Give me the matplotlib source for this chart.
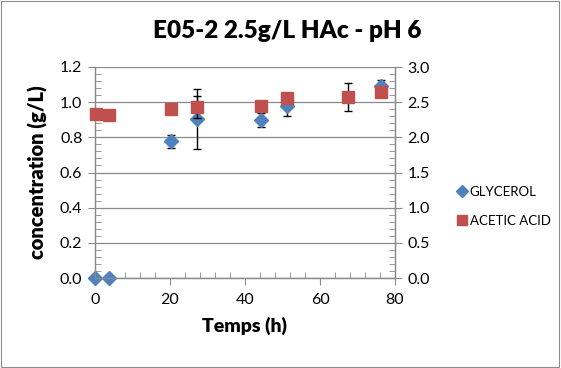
import matplotlib
matplotlib.use("Agg")
import matplotlib.pyplot as plt
from matplotlib.ticker import MultipleLocator, FormatStrFormatter
from matplotlib.patches import Rectangle
from matplotlib.lines import Line2D

# Glycerol (left axis, g/L)
gly_t = [0, 3.7, 20.3, 27.3, 44.2, 51.1, 76.2]
gly_c = [0.0, 0.0, 0.777, 0.904, 0.899, 0.98, 1.094]
gly_err = [0.0, 0.0, 0.039, 0.17, 0.038, 0.06, 0.034]

# Acetic acid (right axis, g/L)
ace_t = [0.2, 3.7, 20.3, 27.3, 44.2, 51.1, 67.6, 76.2]
ace_c = [2.336, 2.313, 2.403, 2.431, 2.45, 2.56, 2.57, 2.64]
ace_err = [0.0, 0.0, 0.0, 0.16, 0.0, 0.0, 0.197, 0.0]

title = "E05-2 2.5g/L HAc - pH 6"
series_names = ["GLYCEROL", "ACETIC ACID"]
blue, red = "#4F81BD", "#C0504D"

plt.rcParams["font.family"] = ["Lato", "DejaVu Sans"]

fig = plt.figure(figsize=(5.61, 3.68), dpi=100)
fig.patches.append(Rectangle((0.002, 0.003), 0.995, 0.993, transform=fig.transFigure,
                             fill=False, edgecolor="#8c8c8c", linewidth=0.8))
ax = fig.add_axes([95 / 561, 1 - 278 / 368, 300 / 561, 211 / 368])
ax2 = ax.twinx()

grid_c = "#8a8a8a"
ax.set_xlim(0, 80)
ax.set_ylim(0, 1.2)
ax2.set_ylim(0, 3.0)

ax.yaxis.set_major_locator(MultipleLocator(0.2))
ax.yaxis.set_minor_locator(MultipleLocator(0.04))
ax.yaxis.set_major_formatter(FormatStrFormatter("%.1f"))
ax2.yaxis.set_major_locator(MultipleLocator(0.5))
ax2.yaxis.set_minor_locator(MultipleLocator(0.1))
ax2.yaxis.set_major_formatter(FormatStrFormatter("%.1f"))
ax.xaxis.set_major_locator(MultipleLocator(20))
ax.xaxis.set_minor_locator(MultipleLocator(4))

ax.grid(axis="y", which="major", color=grid_c, linewidth=0.9)
ax.set_axisbelow(True)

for a in (ax, ax2):
    for s in a.spines.values():
        s.set_color(grid_c)
        s.set_linewidth(0.9)
    a.spines["top"].set_visible(False)
ax.tick_params(axis="both", which="major", direction="out", length=5, color=grid_c,
               labelsize=11.5, pad=4)
ax.tick_params(axis="x", which="major", pad=6)
ax.tick_params(axis="both", which="minor", direction="in", length=4, color=grid_c)
ax2.tick_params(axis="y", which="major", direction="out", length=5, color=grid_c,
                labelsize=11.5, pad=4)
ax2.tick_params(axis="y", which="minor", direction="in", length=4, color=grid_c)

ax.errorbar(gly_t, gly_c, yerr=gly_err, fmt="D", color=blue, markersize=7,
            ecolor="black", elinewidth=1, capsize=3, capthick=1, clip_on=False,
            zorder=3)
ax2.errorbar(ace_t, ace_c, yerr=ace_err, fmt="s", color=red, markersize=9,
             ecolor="black", elinewidth=1, capsize=3, capthick=1, clip_on=False,
             zorder=3)

fig.text(0.512, 1 - 31 / 368, title, fontsize=17.5, fontweight="heavy",
         ha="center", va="center")
ax.set_xlabel("Temps (h)", fontsize=14, fontweight="heavy", labelpad=7)
ax.set_ylabel("concentration (g/L)", fontsize=14.5, fontweight="heavy", labelpad=9)

handles = [Line2D([], [], linestyle="none", marker="D", color=blue, markersize=6),
           Line2D([], [], linestyle="none", marker="s", color=red, markersize=7)]
fig.legend(handles, series_names, loc="center left", bbox_to_anchor=(0.79, 0.44),
           frameon=False, fontsize=9.5, handletextpad=0.1, labelspacing=1.3,
           handlelength=1.0)

fig.savefig("out.png", dpi=100)
